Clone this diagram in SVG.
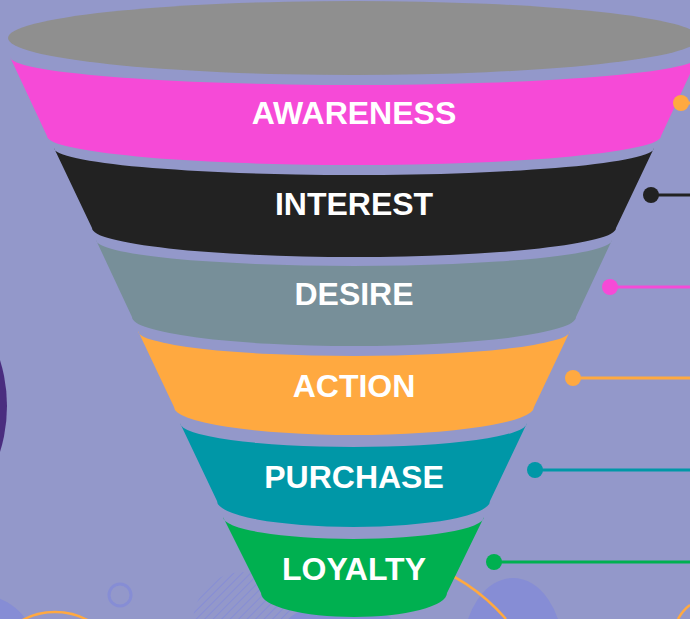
<svg xmlns="http://www.w3.org/2000/svg" width="690" height="619" viewBox="0 0 690 619">
<defs>
<style>
.lbl{font-family:"Liberation Sans",Arial,sans-serif;font-weight:bold;font-size:32px;fill:#ffffff;text-anchor:middle}
.deco{fill:#868DD5}
.oarc{fill:none;stroke:#FFA940;stroke-width:2.5}
.ln{stroke-width:3;fill:none}
</style>
<pattern id="hatch" width="6" height="6" patternUnits="userSpaceOnUse" patternTransform="rotate(45)">
<line x1="0" y1="0" x2="0" y2="6" stroke="#868DD5" stroke-width="2"/>
</pattern>
</defs>
<rect width="690" height="619" fill="#9398CA"/>
<g id="background">
<circle cx="-148" cy="406" r="155" fill="#4A2D7F"/>
<circle cx="-20" cy="650" r="55" class="deco"/>
<circle cx="120" cy="595" r="11" fill="none" stroke="#868DD5" stroke-width="3"/>
<circle cx="55" cy="680" r="68" class="oarc"/>
<circle cx="243" cy="622" r="50" fill="url(#hatch)"/>
<circle cx="340" cy="680" r="80" class="deco"/>
<ellipse cx="513" cy="651" rx="50" ry="73" class="deco"/>
<path d="M420,562 Q470,578 506,619" class="oarc"/>
<path d="M678,619 Q683,610 690,605" class="oarc"/>
</g>
<g id="top-rim">
<ellipse cx="354" cy="38" rx="346" ry="37" fill="#8F8F8F"/>
</g>
<g id="awareness">
<path d="M10,57 A344,28 0 0 0 698,57 L661,136 A307,29 0 0 1 47,136 Z" fill="#F64AD7"/>
<text x="354" y="124" class="lbl">AWARENESS</text>
</g>
<g id="interest">
<path d="M54,148 A300,27 0 0 0 654,148 L616,228 A262,29 0 0 1 92,228 Z" fill="#222222"/>
<text x="354" y="215" class="lbl">INTEREST</text>
</g>
<g id="desire">
<path d="M96,240 A258,26 0 0 0 612,240 L576,317 A222,29 0 0 1 132,317 Z" fill="#778F99"/>
<text x="354" y="305" class="lbl">DESIRE</text>
</g>
<g id="action">
<path d="M138,331 A216,25 0 0 0 570,331 L534,407 A180,28 0 0 1 174,407 Z" fill="#FFA940"/>
<text x="354" y="397" class="lbl">ACTION</text>
</g>
<g id="purchase">
<path d="M180,423 A173.5,24 0 0 0 527,423 L490,501 A136.5,26 0 0 1 217,501 Z" fill="#0097A7"/>
<text x="354" y="488" class="lbl">PURCHASE</text>
</g>
<g id="loyalty">
<path d="M223,517 A130.5,22 0 0 0 484,517 L447,593 A93,24 0 0 1 261,593 Z" fill="#00B050"/>
<text x="354" y="580" class="lbl">LOYALTY</text>
</g>
<g id="connectors">
<line x1="681" y1="103" x2="690" y2="103" class="ln" stroke="#FFA940"/>
<circle cx="681" cy="103" r="8" fill="#FFA940"/>
<line x1="651" y1="195" x2="690" y2="195" class="ln" stroke="#222222"/>
<circle cx="651" cy="195" r="8" fill="#222222"/>
<line x1="610" y1="287" x2="690" y2="287" class="ln" stroke="#F64AD7"/>
<circle cx="610" cy="287" r="8" fill="#F64AD7"/>
<line x1="573" y1="378" x2="690" y2="378" class="ln" stroke="#FFA940"/>
<circle cx="573" cy="378" r="8" fill="#FFA940"/>
<line x1="535" y1="470" x2="690" y2="470" class="ln" stroke="#0097A7"/>
<circle cx="535" cy="470" r="8" fill="#0097A7"/>
<line x1="494" y1="562" x2="690" y2="562" class="ln" stroke="#00B050"/>
<circle cx="494" cy="562" r="8" fill="#00B050"/>
</g>
</svg>
